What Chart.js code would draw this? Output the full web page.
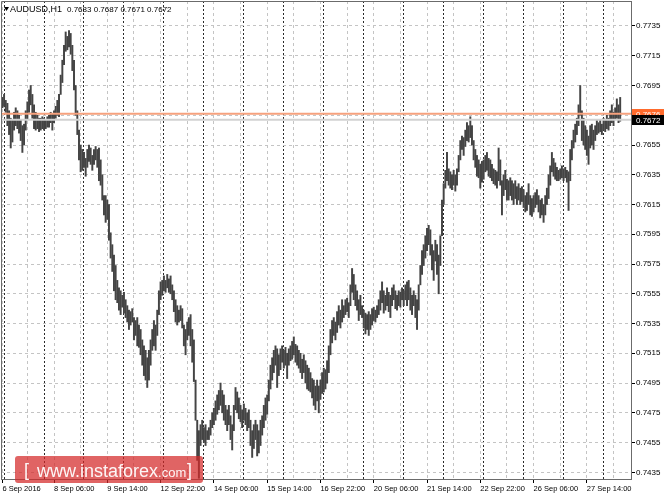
<!DOCTYPE html>
<html>
<head>
<meta charset="utf-8">
<title>AUDUSD H1</title>
<script src="https://cdn.jsdelivr.net/npm/chart.js@4.4.1/dist/chart.umd.min.js"></script>
<style>
  html, body { margin: 0; padding: 0; background: #fff; }
  #wrap { width: 664px; height: 498px; }
</style>
</head>
<body>
<div id="wrap"><canvas id="chart" width="664" height="498"></canvas></div>
<script>
// Hourly bars, 6 Sep 23:00 .. 28 Sep 10:00 (prices x 10000)
const highsWeek1 = [
  7687, 7689, 7685, 7683, 7678, 7673, 7672, 7677, 7680, 7678,
  7675, 7672, 7668, 7669, 7678, 7684, 7692, 7695, 7689, 7682,
  7677, 7675, 7673, 7673, 7674, 7673, 7672, 7674, 7675, 7677,
  7676, 7678, 7681, 7685, 7689, 7702, 7712, 7722, 7731, 7728,
  7732, 7730, 7722, 7712, 7695, 7678, 7665, 7655, 7652, 7650,
  7646, 7652, 7655, 7653, 7648, 7652, 7654, 7652, 7653, 7645,
  7635, 7621, 7621, 7618, 7615, 7596, 7588, 7581, 7574, 7564,
  7559, 7557, 7554
];
const lowsWeek1 = [
  7680, 7681, 7677, 7668, 7662, 7653, 7657, 7665, 7668, 7666,
  7663, 7658, 7650, 7655, 7665, 7672, 7677, 7682, 7673, 7666,
  7665, 7666, 7664, 7665, 7666, 7665, 7666, 7667, 7667, 7670,
  7665, 7670, 7673, 7675, 7674, 7689, 7697, 7709, 7718, 7719,
  7721, 7716, 7705, 7692, 7675, 7662, 7645, 7637, 7638, 7640,
  7634, 7640, 7644, 7642, 7638, 7642, 7645, 7640, 7631, 7628,
  7618, 7608, 7603, 7605, 7591, 7579, 7570, 7557, 7551, 7549,
  7544, 7541, 7546
];
const highsWeek2 = [
  7556, 7551, 7547, 7544, 7543, 7545, 7539, 7537, 7539, 7534,
  7531, 7524, 7520, 7517, 7512, 7517, 7524, 7531, 7537, 7534,
  7544, 7557, 7563, 7564, 7567, 7564, 7568, 7565, 7567, 7561,
  7557, 7551, 7547, 7544, 7547, 7545, 7534, 7531, 7536, 7539,
  7541, 7531, 7524, 7497, 7470, 7463, 7467, 7470, 7465, 7467,
  7463, 7465, 7470, 7475, 7478, 7483, 7487, 7490, 7495, 7490,
  7487, 7480, 7477, 7480, 7473, 7467, 7480, 7492, 7489, 7485,
  7480, 7477, 7481, 7478, 7475, 7477, 7470, 7463, 7467, 7470,
  7467, 7463, 7470, 7473, 7480, 7485, 7487, 7497, 7507, 7512,
  7517, 7520, 7518, 7514, 7518, 7520, 7517, 7519, 7515, 7518,
  7520, 7523, 7526, 7521, 7520, 7517, 7515, 7511, 7514, 7510,
  7507, 7505, 7502, 7498, 7497, 7493, 7497, 7493, 7497, 7502
];
const lowsWeek2 = [
  7542, 7539, 7536, 7531, 7534, 7536, 7524, 7527, 7520, 7519,
  7514, 7507, 7500, 7497, 7492, 7497, 7507, 7517, 7520, 7517,
  7527, 7541, 7551, 7554, 7557, 7556, 7559, 7556, 7555, 7551,
  7543, 7536, 7534, 7536, 7537, 7532, 7520, 7514, 7524, 7527,
  7520, 7509, 7496, 7470, 7443, 7431, 7453, 7457, 7455, 7453,
  7457, 7457, 7460, 7465, 7467, 7470, 7474, 7477, 7480, 7475,
  7470, 7467, 7463, 7467, 7457, 7450, 7463, 7477, 7475, 7471,
  7469, 7465, 7470, 7467, 7463, 7465, 7453, 7445, 7451, 7457,
  7446, 7448, 7453, 7460, 7465, 7470, 7474, 7483, 7491, 7497,
  7502, 7507, 7492, 7500, 7504, 7509, 7505, 7507, 7498, 7507,
  7510, 7511, 7514, 7509, 7507, 7505, 7502, 7498, 7502, 7495,
  7491, 7490, 7489, 7485, 7480, 7477, 7483, 7475, 7484, 7488
];
const highsWeek3 = [
  7505, 7504, 7510, 7520, 7531, 7537, 7539, 7536, 7543, 7547,
  7544, 7551, 7547, 7551, 7552, 7549, 7561, 7572, 7568, 7561,
  7557, 7551, 7554, 7547, 7544, 7542, 7541, 7543, 7541, 7545,
  7546, 7544, 7547, 7551, 7557, 7563, 7557, 7554, 7559, 7556,
  7554, 7559, 7561, 7557, 7554, 7557, 7556, 7559, 7557, 7561,
  7563, 7564, 7559, 7554, 7557, 7554, 7551, 7561, 7574, 7584,
  7588, 7594, 7599, 7601, 7598, 7588, 7584, 7591, 7588, 7581,
  7594, 7618, 7629, 7638, 7650, 7639, 7637, 7635, 7638, 7635,
  7639, 7648, 7658, 7661, 7660, 7665, 7670, 7668, 7674, 7668,
  7658, 7652, 7648, 7645, 7642, 7644, 7645, 7648, 7650, 7646,
  7645, 7642, 7639, 7638, 7637, 7653, 7645, 7631, 7635, 7638,
  7632, 7631, 7633, 7631, 7629, 7631, 7627, 7629, 7626, 7627
];
const lowsWeek3 = [
  7489, 7491, 7495, 7502, 7514, 7522, 7527, 7524, 7529, 7534,
  7532, 7536, 7539, 7541, 7543, 7539, 7547, 7556, 7551, 7547,
  7544, 7537, 7541, 7539, 7532, 7528, 7531, 7527, 7531, 7534,
  7537, 7536, 7539, 7541, 7544, 7549, 7542, 7544, 7547, 7543,
  7539, 7547, 7551, 7545, 7544, 7547, 7546, 7551, 7547, 7551,
  7547, 7551, 7544, 7541, 7547, 7539, 7531, 7544, 7561, 7568,
  7574, 7579, 7584, 7588, 7581, 7571, 7564, 7577, 7568, 7555,
  7574, 7594, 7615, 7626, 7631, 7628, 7626, 7625, 7628, 7624,
  7628, 7637, 7645, 7652, 7648, 7654, 7658, 7657, 7660, 7655,
  7645, 7640, 7634, 7633, 7626, 7630, 7632, 7637, 7638, 7634,
  7633, 7631, 7629, 7628, 7626, 7631, 7628, 7608, 7621, 7625,
  7618, 7618, 7621, 7618, 7615, 7619, 7615, 7618, 7615, 7617
];
const highsWeek4 = [
  7625, 7621, 7623, 7629, 7621, 7619, 7621, 7623, 7625, 7621,
  7618, 7619, 7615, 7621, 7626, 7635, 7641, 7650, 7646, 7643,
  7640, 7638, 7639, 7641, 7639, 7640, 7638, 7637, 7652, 7658,
  7665, 7669, 7673, 7682, 7695, 7678, 7673, 7668, 7665, 7661,
  7668, 7669, 7665, 7668, 7672, 7670, 7672, 7669, 7673, 7672,
  7675, 7673, 7678, 7682, 7677, 7680, 7686, 7682, 7687
];
const lowsWeek4 = [
  7613, 7610, 7611, 7615, 7608, 7607, 7610, 7613, 7615, 7610,
  7606, 7608, 7603, 7608, 7615, 7619, 7628, 7637, 7634, 7632,
  7631, 7631, 7632, 7633, 7631, 7633, 7630, 7611, 7631, 7645,
  7653, 7657, 7662, 7668, 7675, 7658, 7655, 7652, 7648, 7642,
  7653, 7655, 7652, 7658, 7662, 7663, 7664, 7662, 7665, 7664,
  7666, 7665, 7668, 7670, 7668, 7672, 7673, 7670, 7671
];

// last bar O H L C shown in the header
const lastBar = [0.7683, 0.7687, 0.7671, 0.7672];
const levelPrice = 0.7676;   // orange horizontal line
const bidPrice = 0.7672;

// time axis: bar index -> label
const firstLabel = '6 Sep 2016';
const timeLabels = ['8 Sep 06:00', '9 Sep 14:00', '12 Sep 22:00', '14 Sep 06:00', '15 Sep 14:00',
  '16 Sep 22:00', '20 Sep 06:00', '21 Sep 14:00', '22 Sep 22:00', '26 Sep 06:00', '27 Sep 14:00'];
// first bar of each trading day (period separators)
const dayStarts = [1, 25, 49, 73, 97, 121, 145, 169, 193, 217, 241, 265, 289, 313, 337, 361];
const priceTicks = [0.7435, 0.7455, 0.7475, 0.7495, 0.7515, 0.7535, 0.7555, 0.7575, 0.7595,
  0.7615, 0.7635, 0.7655, 0.7675, 0.7695, 0.7715, 0.7735];

const FONT = '"Liberation Sans", Arial, sans-serif';
const X_MIN = -0.84, X_MAX = 377.5;
const Y_MIN = 0.74305, Y_MAX = 0.77518;

const highs = [...highsWeek1, ...highsWeek2, ...highsWeek3, ...highsWeek4];
const lows = [...lowsWeek1, ...lowsWeek2, ...lowsWeek3, ...lowsWeek4];
const bars = highs.map((h, i) => ({ x: i, y: [lows[i] / 10000, h / 10000] }));

const labelAt = { 0: firstLabel };
timeLabels.forEach((t, k) => { labelAt[31 + 32 * k] = t; });
const gridIdx = [0];
for (let i = 15; i < highs.length; i += 16) gridIdx.push(i);

function noPadding(s) {
  s.paddingTop = 0; s.paddingBottom = 0; s.paddingLeft = 0; s.paddingRight = 0;
}

// frame, header, price tags and watermark
const overlay = {
  id: 'overlay',
  afterDraw(chart) {
    const ctx = chart.ctx;
    const a = chart.chartArea;
    const y = chart.scales.y;
    ctx.save();

    ctx.strokeStyle = '#6b6b6b';
    ctx.lineWidth = 1;
    ctx.beginPath();
    ctx.moveTo(a.left + 0.5, a.bottom);
    ctx.lineTo(a.left + 0.5, a.top + 0.5);
    ctx.lineTo(a.right, a.top + 0.5);
    ctx.stroke();

    // header
    ctx.fillStyle = '#000';
    ctx.beginPath();
    ctx.moveTo(4, 7); ctx.lineTo(9, 7); ctx.lineTo(6.5, 11); ctx.closePath();
    ctx.fill();
    ctx.font = '9px ' + FONT;
    ctx.textBaseline = 'alphabetic';
    ctx.textAlign = 'left';
    ctx.fillText('AUDUSD,H1', 10, 12);
    ctx.font = '8px ' + FONT;
    ctx.fillText(lastBar.map(v => v.toFixed(4)).join(' '), 67, 12);

    // price tags on the axis
    ctx.font = '8px ' + FONT;
    ctx.textBaseline = 'middle';
    [[levelPrice, '#ff6a2c'], [bidPrice, '#000']].forEach(([p, bg]) => {
      const py = Math.round(y.getPixelForValue(p));
      ctx.fillStyle = bg;
      ctx.fillRect(a.right + 1, py - 5, 664 - a.right - 1, 10);
      ctx.fillStyle = '#fff';
      ctx.fillText(p.toFixed(4), a.right + 5, py + 0.5);
    });

    // watermark
    const wx = 15, wy = 456, ww = 188, wh = 27, r = 3;
    ctx.fillStyle = 'rgba(212, 40, 40, 0.72)';
    ctx.beginPath();
    ctx.moveTo(wx + r, wy);
    ctx.lineTo(wx + ww - r, wy); ctx.quadraticCurveTo(wx + ww, wy, wx + ww, wy + r);
    ctx.lineTo(wx + ww, wy + wh - r); ctx.quadraticCurveTo(wx + ww, wy + wh, wx + ww - r, wy + wh);
    ctx.lineTo(wx + r, wy + wh); ctx.quadraticCurveTo(wx, wy + wh, wx, wy + wh - r);
    ctx.lineTo(wx, wy + r); ctx.quadraticCurveTo(wx, wy, wx + r, wy);
    ctx.fill();
    ctx.fillStyle = 'rgba(255,255,255,0.95)';
    ctx.textBaseline = 'alphabetic';
    ctx.font = '18px ' + FONT;
    ctx.fillText('[', 24, 476);
    ctx.fillText('www.instaforex', 37, 477);
    const w1 = ctx.measureText('www.instaforex').width;
    ctx.font = '13px ' + FONT;
    ctx.fillText('.com', 37 + w1, 477);
    ctx.font = '18px ' + FONT;
    ctx.fillText(']', 187, 476);
    ctx.restore();
  }
};

new Chart(document.getElementById('chart'), {
  type: 'bar',
  data: {
    datasets: [
      {
        type: 'line', label: 'level', xAxisID: 'x', yAxisID: 'y',
        data: [{ x: X_MIN, y: levelPrice }, { x: X_MAX, y: levelPrice }],
        borderColor: '#f6a17d', borderWidth: 2, pointRadius: 0, order: 0
      },
      {
        type: 'line', label: 'bid', xAxisID: 'x', yAxisID: 'y',
        data: [{ x: X_MIN, y: bidPrice }, { x: X_MAX, y: bidPrice }],
        borderColor: '#d2d2d2', borderWidth: 2, pointRadius: 0, order: 1
      },
      {
        label: 'AUDUSD,H1', xAxisID: 'x', yAxisID: 'y',
        data: bars,
        backgroundColor: '#444',
        barThickness: 1.3,
        order: 2
      }
    ]
  },
  options: {
    responsive: false,
    animation: false,
    layout: { padding: { left: 1, top: 1, right: 0, bottom: 0 } },
    plugins: { legend: { display: false }, tooltip: { enabled: false } },
    scales: {
      x: {
        type: 'linear', position: 'bottom', min: X_MIN, max: X_MAX, offset: false,
        afterBuildTicks: s => { s.ticks = gridIdx.map(v => ({ value: v })); },
        afterFit: s => { s.height = 19; noPadding(s); },
        ticks: {
          autoSkip: false, maxRotation: 0, align: 'start', padding: 1, color: '#000',
          font: { family: FONT, size: 7.5 },
          callback: v => labelAt[v] || ''
        },
        grid: {
          offset: false, color: '#c4c4c4', tickLength: 4, tickBorderDash: [],
          tickColor: c => (c.tick && labelAt[c.tick.value]) ? '#000' : 'rgba(0,0,0,0)'
        },
        border: { display: true, color: '#6b6b6b', dash: [3, 3] }
      },
      days: {
        type: 'linear', axis: 'x', position: 'bottom', min: X_MIN, max: X_MAX, offset: false,
        afterBuildTicks: s => { s.ticks = dayStarts.map(v => ({ value: v })); },
        afterFit: s => { s.height = 0; noPadding(s); },
        ticks: { display: false },
        grid: { offset: false, color: '#2a2a2a', drawTicks: false },
        border: { display: false, dash: [2, 2] }
      },
      y: {
        type: 'linear', position: 'right', min: Y_MIN, max: Y_MAX,
        afterBuildTicks: s => { s.ticks = priceTicks.map(v => ({ value: v })); },
        afterFit: s => { s.width = 33; noPadding(s); },
        ticks: {
          padding: 1, color: '#000', font: { family: FONT, size: 8 },
          callback: v => v.toFixed(4)
        },
        grid: { color: '#c4c4c4', tickLength: 4, tickColor: '#000', tickBorderDash: [] },
        border: { display: true, color: '#6b6b6b', dash: [3, 3] }
      }
    }
  },
  plugins: [overlay]
});
</script>
</body>
</html>
